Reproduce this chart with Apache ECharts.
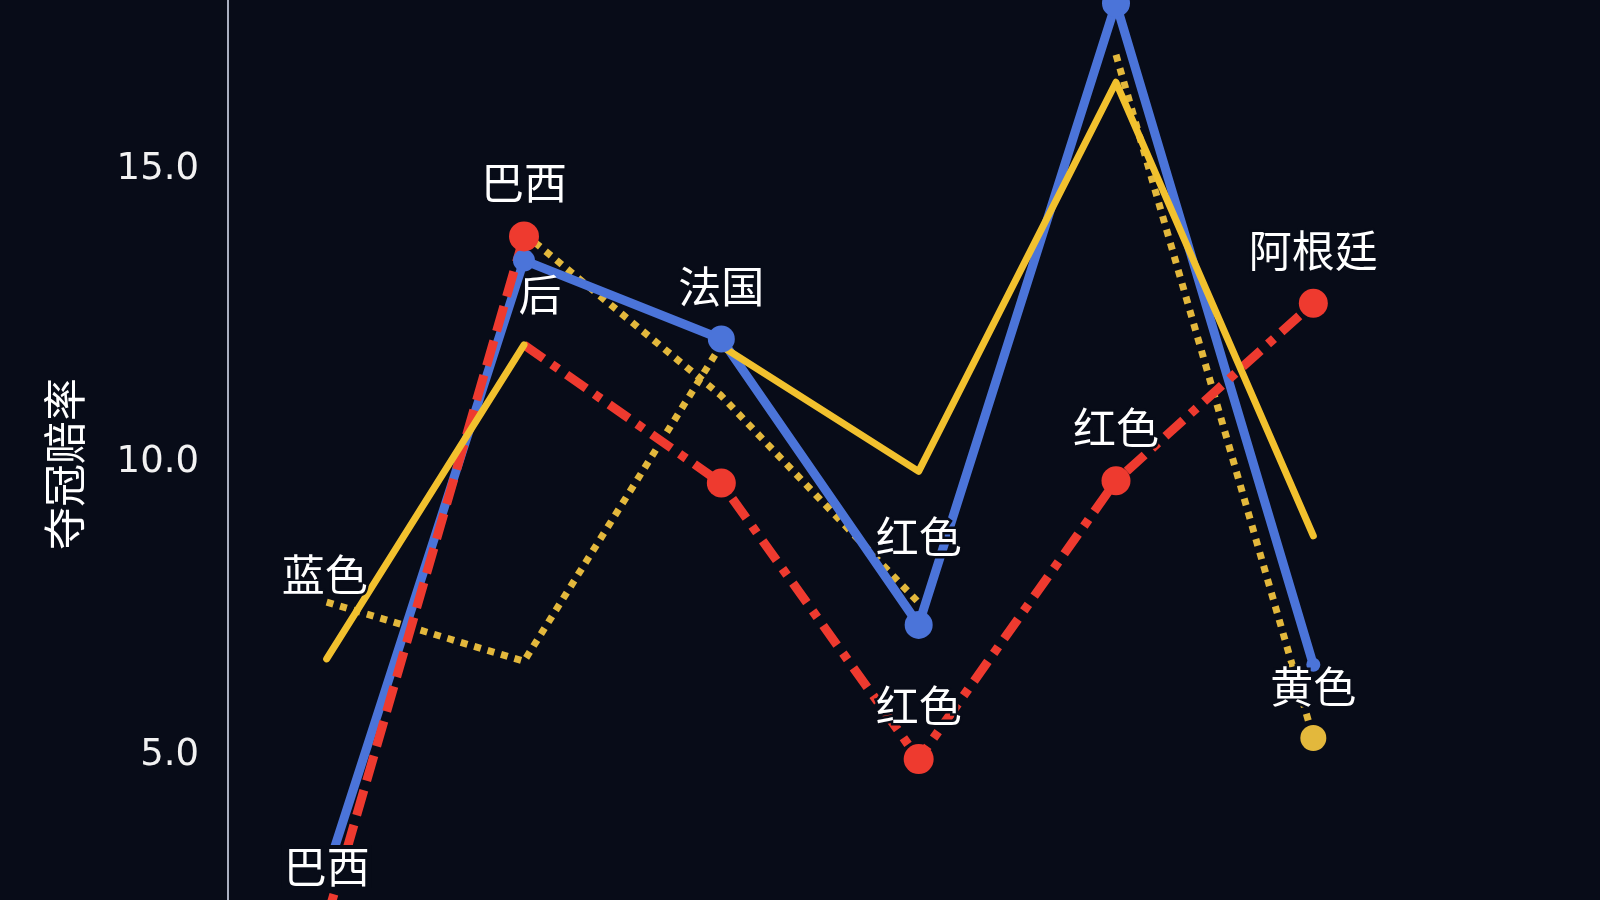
<!DOCTYPE html>
<html><head><meta charset="utf-8">
<script src="https://cdn.jsdelivr.net/npm/echarts@6/dist/echarts.min.js"></script>
<style>html,body{margin:0;padding:0;background:#080c18;overflow:hidden;}#c{width:1600px;height:900px;}</style>
</head><body><div id="c"></div>
<script>
// ---- data ----
const categories = ['1', '2', '3', '4', '5', '6'];
const blueOdds         = [3.0, 13.44, 12.1, 7.22, 17.83, 6.54];
const redDashOdds      = [2.2, 13.85, '-', '-', '-', '-'];
const redDotDashOdds   = ['-', 12.0, 9.64, 4.93, 9.68, 12.71];
const yellowSolidOddsA = [6.64, 12.0, '-', '-', '-', '-'];
const yellowSolidOddsB = ['-', '-', 11.98, 9.84, 16.48, 8.74];
const yellowDotOddsA   = [7.61, 6.6, 12.0, '-', 16.95, 5.29];
const yellowDotOddsB   = ['-', 13.9, 11.13, 7.6, '-', '-'];

const blueLabels         = ['', '', '法国', '红色', '', ''];
const redDashLabels      = ['巴西', '巴西', '', '', '', ''];
const redDotDashLabels   = ['', '', '', '红色', '红色', '阿根廷'];
const yellowSolidLabelsA = ['', '后', '', '', '', ''];
const yellowSolidLabelsB = ['', '', '', '', '', ''];
const yellowDotLabelsA   = ['蓝色', '', '', '', '', '黄色'];
const yellowDotLabelsB   = ['', '', '', '', '', ''];

const yAxisName = '夺冠赔率';
const yTickValues = [5, 10, 15];
const yMin = 2.526, yMax = 17.884;   // visible value range of the cropped plot

// ---- styles ----
const BG = '#080c18';
const BLUE = '#4b74d9', RED = '#ee3a2f', YEL = '#f2c12e', YDOT = '#e3b83c';
const CLEAR = 'rgba(0,0,0,0)';

const baseLabel = {
  show: true, position: 'top', distance: 17, color: '#ffffff',
  fontSize: 43, fontFamily: 'Noto Sans CJK SC',
  textBorderColor: BG, textBorderWidth: 5
};

function build(name, values, labels, opts) {
  const data = values.map((v, i) => {
    if (v === '-') return '-';
    const item = { value: v };
    const vis = opts.markers[i];
    item.symbolSize = vis ? vis : 28;
    item.itemStyle = { color: vis ? opts.color : CLEAR, borderWidth: 0 };
    const txt = labels[i];
    if (txt) {
      const extra = (opts.labelExtra && opts.labelExtra[i]) || {};
      item.label = Object.assign({}, baseLabel, { formatter: txt }, extra);
    } else {
      item.label = { show: false };
    }
    return item;
  });
  return {
    name, type: 'line', data, z: opts.z || 2,
    symbol: 'circle', showSymbol: true, showAllSymbol: true,
    connectNulls: false, clip: false,
    lineStyle: Object.assign({ color: opts.color, cap: 'round', join: 'round' }, opts.line),
    emphasis: { disabled: true }, animation: false, silent: true
  };
}

const series = [
  build('yellowDotA', yellowDotOddsA, yellowDotLabelsA, {
    color: YDOT, markers: [0, 0, 0, 0, 0, 26],
    line: { width: 7, type: [7, 7], cap: 'butt' },
    labelExtra: { 0: { offset: [-2, 25] } }
  }),
  build('yellowDotB', yellowDotOddsB, yellowDotLabelsB, {
    color: YDOT, markers: [0, 0, 0, 0, 0, 0],
    line: { width: 7, type: [7, 7], cap: 'butt' }
  }),
  build('blue', blueOdds, blueLabels, {
    color: BLUE, markers: [0, 22, 27, 28, 28, 14],
    line: { width: 9 },
    labelExtra: { 3: { offset: [0, -36] } }
  }),
  build('redDash', redDashOdds, redDashLabels, {
    color: RED, markers: [0, 30, 0, 0, 0, 0],
    line: { width: 9, type: [26, 10], cap: 'butt' },
    labelExtra: { 0: { backgroundColor: BG, padding: [0, 2] } }
  }),
  build('redDotDash', redDotDashOdds, redDotDashLabels, {
    color: RED, markers: [0, 0, 29, 30, 29, 29],
    line: { width: 9, type: [24, 10, 8, 10], cap: 'butt' }
  }),
  build('yellowSolidA', yellowSolidOddsA, yellowSolidLabelsA, {
    color: YEL, markers: [0, 0, 0, 0, 0, 0],
    line: { width: 7 },
    labelExtra: { 1: { offset: [16, 2], textBorderWidth: 0 } }
  }),
  build('yellowSolidB', yellowSolidOddsB, yellowSolidLabelsB, {
    color: YEL, markers: [0, 0, 0, 0, 0, 0],
    line: { width: 7 }
  })
];

const chart = echarts.init(document.getElementById('c'), null, { renderer: 'canvas' });
chart.setOption({
  backgroundColor: BG,
  animation: false,
  grid: { left: 228, right: 188, top: 0, bottom: 0, containLabel: false },
  xAxis: {
    type: 'category', data: categories, boundaryGap: true, show: false
  },
  yAxis: {
    type: 'value', min: yMin, max: yMax,
    name: yAxisName, nameLocation: 'middle', nameGap: 142,
    nameTextStyle: { color: '#ffffff', fontSize: 43, fontFamily: 'Noto Sans CJK SC', padding: [0, 28, 0, 0] },
    axisLine: { show: true, lineStyle: { color: '#aab0c0', width: 2 } },
    axisTick: { show: false, customValues: yTickValues },
    splitLine: { show: false },
    axisLabel: {
      color: '#f2f2f2', fontSize: 37, fontFamily: 'DejaVu Sans', margin: 29,
      padding: [7, 0, 0, 0],
      customValues: yTickValues,
      formatter: v => Number(v).toFixed(1)
    }
  },
  series
});
</script>
</body></html>
